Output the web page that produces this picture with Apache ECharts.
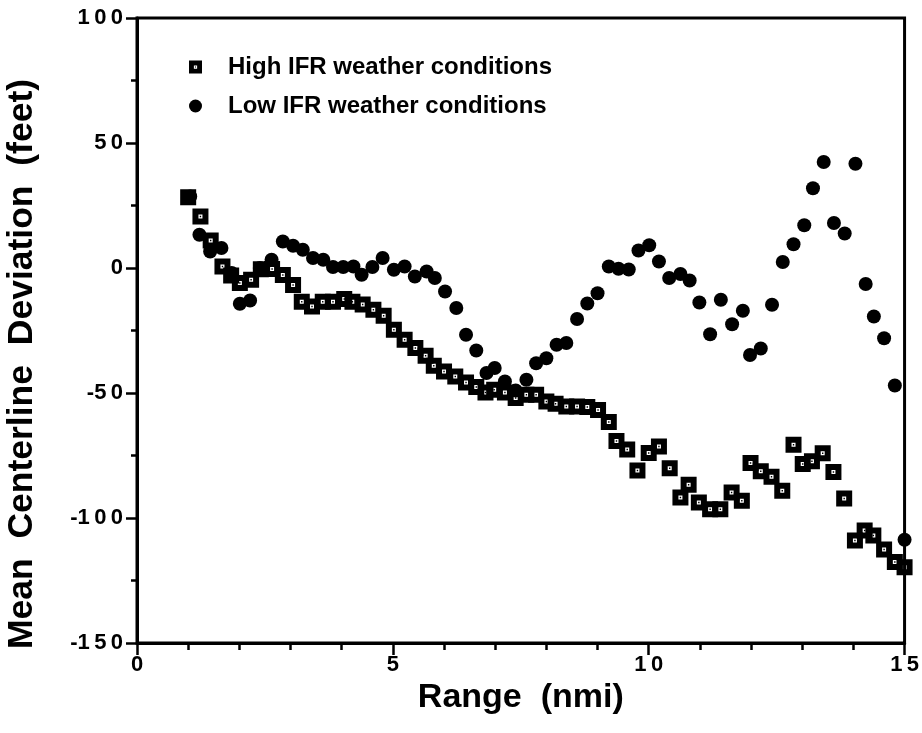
<!DOCTYPE html>
<html>
<head>
<meta charset="utf-8">
<script src="https://cdn.jsdelivr.net/npm/echarts@6/dist/echarts.min.js"></script>
<style>
html,body{margin:0;padding:0;background:#fff;}
#chart{width:922px;height:733px;}
</style>
</head>
<body>
<div id="chart"></div>
<script>
// Range (nmi) and mean centerline deviation (feet)
const highX = [1.0, 1.24, 1.44, 1.67, 1.84, 2.01, 2.23, 2.42, 2.64, 2.85, 3.05, 3.22, 3.42, 3.63, 3.83, 4.05, 4.21, 4.41, 4.62, 4.82,
  5.02, 5.23, 5.44, 5.64, 5.8, 6.0, 6.22, 6.43, 6.63, 6.81, 6.98, 7.19, 7.4, 7.61, 7.8, 8.0, 8.18, 8.39, 8.6, 8.8,
  9.01, 9.22, 9.37, 9.58, 9.78, 10.0, 10.2, 10.41, 10.62, 10.78, 10.98, 11.2, 11.4, 11.62, 11.82, 11.99, 12.19, 12.4, 12.61, 12.83,
  13.01, 13.19, 13.4, 13.61, 13.82, 14.03, 14.22, 14.39, 14.6, 14.81, 15.0];
const highY = [28.3, 20.6, 11.0, 0.6, -3.0, -6.0, -4.7, -0.5, -0.4, -2.8, -6.8, -13.5, -15.4, -13.5, -13.5, -12.4, -13.5, -14.6, -16.7, -19.1,
  -24.7, -28.7, -32.0, -35.1, -39.1, -41.4, -43.4, -45.8, -47.6, -49.8, -48.7, -49.8, -52.0, -50.7, -50.7, -53.4, -54.3, -55.4, -55.4, -55.6,
  -56.8, -61.6, -69.2, -72.6, -81.0, -74.0, -71.4, -80.1, -91.8, -86.7, -93.8, -96.5, -96.5, -89.8, -93.1, -78.0, -81.3, -83.5, -89.1, -70.7,
  -78.4, -77.3, -74.1, -81.6, -92.2, -109.0, -105.0, -107.0, -112.6, -117.6, -119.7];
const lowX = [1.04, 1.22, 1.43, 1.65, 1.85, 2.01, 2.21, 2.4, 2.63, 2.85, 3.05, 3.24, 3.44, 3.64, 3.83, 4.03, 4.23, 4.39, 4.6, 4.8,
  5.02, 5.23, 5.43, 5.66, 5.82, 6.02, 6.24, 6.43, 6.63, 6.83, 6.99, 7.19, 7.4, 7.61, 7.8, 8.0, 8.2, 8.39, 8.6, 8.8,
  9.0, 9.22, 9.41, 9.61, 9.8, 10.01, 10.2, 10.4, 10.62, 10.8, 10.99, 11.2, 11.41, 11.63, 11.84, 11.98, 12.19, 12.41, 12.62, 12.83,
  13.04, 13.21, 13.42, 13.62, 13.83, 14.04, 14.24, 14.4, 14.6, 14.81, 15.0];
const lowY = [28.6, 13.3, 6.6, 8.0, -2.0, -14.3, -13.0, 0.0, 3.3, 10.6, 8.9, 7.3, 4.0, 3.3, 0.4, 0.4, 0.6, -2.7, 0.4, 4.0,
  -0.7, 0.6, -3.4, -1.4, -4.0, -9.4, -16.0, -26.7, -33.0, -42.0, -40.0, -45.4, -49.0, -44.7, -38.1, -36.1, -30.7, -30.0, -20.4, -14.2,
  -10.1, 0.6, -0.3, -0.6, 7.0, 9.1, 2.6, -4.0, -2.4, -5.0, -13.8, -26.5, -12.7, -22.5, -17.1, -34.8, -32.2, -14.7, 2.4, 9.5,
  17.1, 31.9, 42.4, 18.0, 13.8, 41.7, -6.4, -19.4, -28.1, -47.0, -108.7];
const seriesNames = ['High IFR weather conditions', 'Low IFR weather conditions'];
const xTitle = 'Range  (nmi)';
const yTitle = 'Mean  Centerline  Deviation  (feet)';

const squareIcon = 'path://M0,0 L16,0 L16,16 L0,16 Z M6,6 L6,10 L10,10 L10,6 Z M7.3,7.3 L8.7,7.3 L8.7,8.7 L7.3,8.7 Z';
const spaced = v => {
  const s = String(v);
  const neg = s[0] === '-';
  const body = neg ? s.slice(1) : s;
  return (neg ? '-' : '') + body.split('').join('\u2009');
};
const font = '"Liberation Sans", Arial, Helvetica, sans-serif';

const chart = echarts.init(document.getElementById('chart'), null, {renderer: 'canvas'});
chart.setOption({
  animation: false,
  backgroundColor: '#fff',
  textStyle: {fontFamily: font, color: '#000'},
  grid: {left: 137, right: 17, top: 18, bottom: 90, show: true, borderColor: '#000', borderWidth: 3, backgroundColor: 'transparent'},
  legend: {
    orient: 'vertical', left: 184, top: 50, itemWidth: 13, itemHeight: 13, itemGap: 15,
    textStyle: {fontFamily: font, fontSize: 24, fontWeight: 'bold', lineHeight: 24, color: '#000', padding: [0, 0, 0, 21]},
    data: [{name: seriesNames[0], icon: squareIcon}, {name: seriesNames[1], icon: 'circle'}]
  },
  xAxis: {
    type: 'value', min: 0, max: 15, interval: 5,
    axisLine: {onZero: false, lineStyle: {color: '#000', width: 3}},
    axisTick: {length: 12, lineStyle: {color: '#000', width: 2.5}},
    minorTick: {show: true, splitNumber: 5, length: 7, lineStyle: {color: '#000', width: 2.5}},
    splitLine: {show: false}, minorSplitLine: {show: false},
    axisLabel: {fontFamily: font, fontSize: 22, fontWeight: 'bold', color: '#000', margin: 11, formatter: spaced},
    name: xTitle, nameLocation: 'middle', nameGap: 23,
    nameTextStyle: {fontFamily: font, fontSize: 34, fontWeight: 'bold', color: '#000'}
  },
  yAxis: {
    type: 'value', min: -150, max: 100, interval: 50,
    axisLine: {onZero: false, lineStyle: {color: '#000', width: 3}},
    axisTick: {length: 11, lineStyle: {color: '#000', width: 2.5}},
    minorTick: {show: true, splitNumber: 2, length: 6, lineStyle: {color: '#000', width: 2.5}},
    splitLine: {show: false}, minorSplitLine: {show: false},
    axisLabel: {fontFamily: font, fontSize: 22, fontWeight: 'bold', color: '#000', margin: 14, formatter: spaced}
  },
  graphic: [{
    type: 'text', x: 22, y: 364, rotation: Math.PI / 2,
    style: {text: yTitle, font: 'bold 35.5px ' + font, fill: '#000', align: 'center', verticalAlign: 'middle'}
  }],
  series: [
    {
      name: seriesNames[0], type: 'scatter', symbol: squareIcon, symbolSize: 16,
      itemStyle: {color: '#000', opacity: 1},
      data: highX.map((x, i) => [x, highY[i]])
    },
    {
      name: seriesNames[1], type: 'scatter', symbol: 'circle', symbolSize: 14,
      itemStyle: {color: '#000', opacity: 1},
      data: lowX.map((x, i) => [x, lowY[i]])
    }
  ]
});
</script>
</body>
</html>
